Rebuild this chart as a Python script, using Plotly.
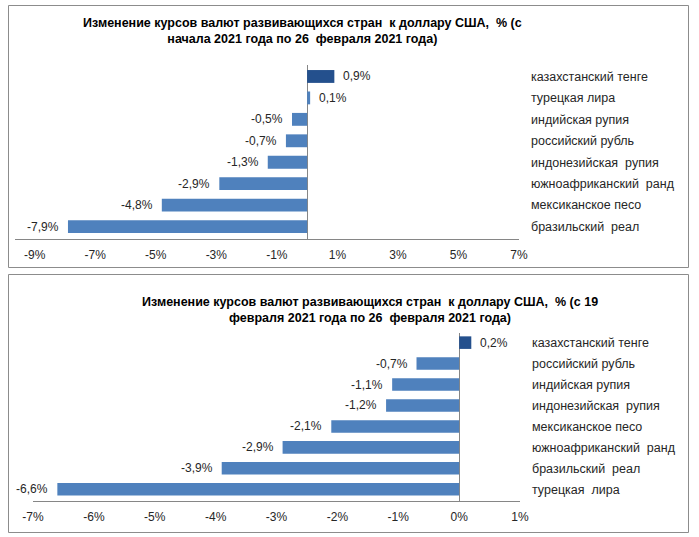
import plotly.graph_objects as go

W, H = 699, 537

# ---------- data ----------
top_categories = ["казахстанский тенге", "турецкая лира", "индийская рупия", "российский рубль",
                  "индонезийская  рупия", "южноафриканский  ранд", "мексиканское песо", "бразильский  реал"]
top_values = [0.9, 0.1, -0.5, -0.7, -1.3, -2.9, -4.8, -7.9]
top_ticks = [-9, -7, -5, -3, -1, 1, 3, 5, 7]
top_title = "Изменение курсов валют развивающихся стран  к доллару США,  % (с<br>начала 2021 года по 26  февраля 2021 года)"

bot_categories = ["казахстанский тенге", "российский рубль", "индийская рупия", "индонезийская  рупия",
                  "мексиканское песо", "южноафриканский  ранд", "бразильский  реал", "турецкая  лира"]
bot_values = [0.2, -0.7, -1.1, -1.2, -2.1, -2.9, -3.9, -6.6]
bot_ticks = [-7, -6, -5, -4, -3, -2, -1, 0, 1]
bot_title = "Изменение курсов валют развивающихся стран  к доллару США,  % (с 19<br>февраля 2021 года по 26  февраля 2021 года)"

DARK = "#24508D"
BLUE = "#4F81BD"
AX = "#868686"
FONT = "Liberation Sans, Arial, sans-serif"


def px(x):
    return x / W


def py(y):
    return 1 - y / H


def pct(v):
    return f"{v:.1f}".replace(".", ",") + "%"


fig = go.Figure()

panels = [
    dict(cats=top_categories, vals=top_values, ticks=top_ticks, xa="x", ya="y",
         xdom=(15, 519), ydom=(65, 239), xr=[-9.65, 7], yr=[7.58, -0.535]),
    dict(cats=bot_categories, vals=bot_values, ticks=bot_ticks, xa="x2", ya="y2",
         xdom=(33, 520), ydom=(333, 501), xr=[-7, 1], yr=[7.56, -0.46]),
]

annotations = []
for i, p in enumerate(panels):
    colors = [DARK if c.startswith("казахстанский") else BLUE for c in p["cats"]]
    fig.add_trace(go.Bar(
        x=p["vals"], y=p["cats"], orientation="h", width=0.6,
        marker=dict(color=colors, line=dict(width=0)),
        xaxis=p["xa"], yaxis=p["ya"], showlegend=False, hoverinfo="skip",
    ))
    for c, v in zip(p["cats"], p["vals"]):
        annotations.append(dict(
            x=v, y=c, xref=p["xa"], yref=p["ya"], text=pct(v), showarrow=False,
            xanchor="left" if v >= 0 else "right", xshift=7 if v >= 0 else -7,
            font=dict(family=FONT, size=12, color="#262626"),
        ))
    sfx = "" if i == 0 else "2"
    fig.update_layout(**{
        "xaxis" + sfx: dict(
            domain=[px(p["xdom"][0]), px(p["xdom"][1])], range=p["xr"],
            anchor=p["ya"], tickvals=p["ticks"], ticktext=[f"{t}%" for t in p["ticks"]],
            showgrid=False, zeroline=True, zerolinecolor=AX, zerolinewidth=1,
            showline=True, linecolor=AX, linewidth=1, ticks="",
            ticklabelstandoff=5, automargin=False,
            tickfont=dict(family=FONT, size=12, color="#262626"),
            fixedrange=True,
        ),
        "yaxis" + sfx: dict(
            domain=[py(p["ydom"][1]), py(p["ydom"][0])], range=p["yr"],
            anchor=p["xa"], side="right", type="category",
            categoryorder="array", categoryarray=p["cats"],
            showgrid=False, showline=False, ticks="", zeroline=False,
            ticklabelstandoff=11, automargin=False,
            tickfont=dict(family=FONT, size=12.5, color="#262626"),
            fixedrange=True,
        ),
    })

# titles
annotations.append(dict(x=px(302), y=py(31), xref="paper", yref="paper", text=top_title,
                        showarrow=False, xanchor="center", yanchor="middle",
                        font=dict(family=FONT, size=12.5, color="black", weight="bold")))
annotations.append(dict(x=px(370), y=py(310), xref="paper", yref="paper", text=bot_title,
                        showarrow=False, xanchor="center", yanchor="middle",
                        font=dict(family=FONT, size=12.5, color="black", weight="bold")))

shapes = [
    dict(type="rect", xref="paper", yref="paper", x0=px(8.5), x1=px(688.5), y0=py(267.5), y1=py(5.5),
         line=dict(color="#8C8C8C", width=1)),
    dict(type="rect", xref="paper", yref="paper", x0=px(8.5), x1=px(688.5), y0=py(532.5), y1=py(274.5),
         line=dict(color="#8C8C8C", width=1)),
]

fig.update_layout(
    width=W, height=H, margin=dict(l=0, r=0, t=0, b=0),
    paper_bgcolor="white", plot_bgcolor="white",
    annotations=annotations, shapes=shapes, bargap=0.4,
    font=dict(family=FONT),
)

fig.write_html("out.html", config={"displayModeBar": False})
